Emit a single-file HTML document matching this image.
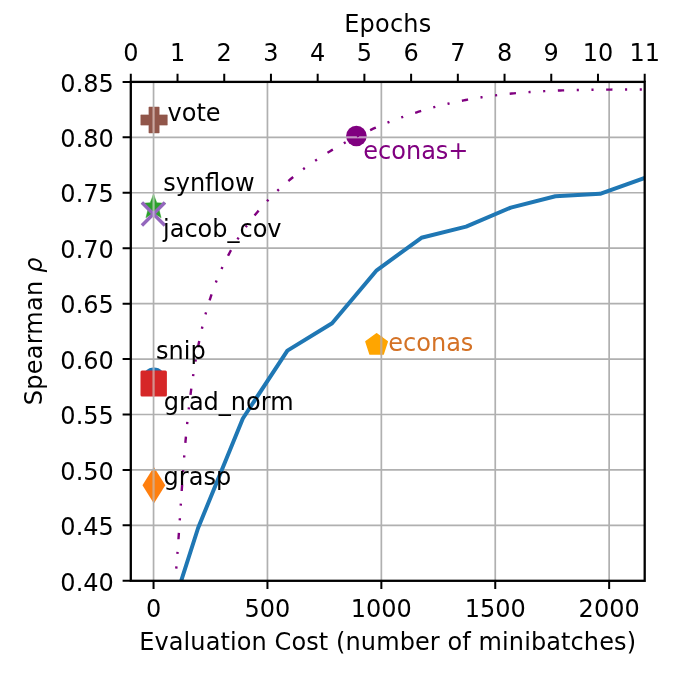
<!DOCTYPE html>
<html><head><meta charset="utf-8"><title>Spearman vs Evaluation Cost</title>
<style>html,body{margin:0;padding:0;background:#fff}body{width:684px;height:683px;overflow:hidden}</style></head>
<body>
<svg width="684" height="683" viewBox="0 0 684 683" style="display:block" font-family="'DejaVu Sans','Liberation Sans',sans-serif" font-size="24px">
<rect width="684" height="683" fill="#fff"/>
<defs><clipPath id="ax"><rect x="130.8" y="81.9" width="513.9000000000001" height="498.9"/></clipPath></defs>
<g clip-path="url(#ax)">
<circle cx="153.9" cy="379.4" r="11.8" fill="#1f77b4"/>
<rect x="140.5" y="370.4" width="26.4" height="26.2" rx="1.5" fill="#d62728"/>
<polygon points="148.95,107.10 159.15,107.10 159.15,114.90 167.25,114.90 167.25,125.10 159.15,125.10 159.15,132.90 148.95,132.90 148.95,125.10 140.85,125.10 140.85,114.90 148.95,114.90" fill="#91564a" stroke="#91564a" stroke-width="0.6" stroke-linejoin="round"/>
<polygon points="153.50,194.30 156.85,202.69 165.86,203.28 158.92,209.06 161.14,217.82 153.50,213.00 145.86,217.82 148.08,209.06 141.14,203.28 150.15,202.69" fill="#2ca02c" stroke="#2ca02c" stroke-width="0.4" stroke-linejoin="miter"/>
<path d="M141.9,202.5L164.9,225.5M164.9,202.5L141.9,225.5" stroke="#9467bd" stroke-width="3.4" stroke-linecap="butt" fill="none"/>
<polygon points="153.9,467.1 165.3,485.3 153.9,503.5 142.5,485.3" fill="#ff7f0e"/>
<circle cx="356.4" cy="136.0" r="10.3" fill="#800080"/>
<polygon points="376.60,333.80 387.25,341.54 383.18,354.06 370.02,354.06 365.95,341.54" fill="#ffa500" stroke="#ffa500" stroke-width="1.6" stroke-linejoin="round"/>
</g>
<path d="M153.55,81.9V580.8M267.45,81.9V580.8M381.35,81.9V580.8M495.25,81.9V580.8M609.15,81.9V580.8M130.8,525.37H644.7M130.8,469.93H644.7M130.8,414.50H644.7M130.8,359.07H644.7M130.8,303.63H644.7M130.8,248.20H644.7M130.8,192.77H644.7M130.8,137.33H644.7" stroke="#b0b0b0" stroke-width="1.7" fill="none"/>
<path d="M153.55,107.30L153.55,132.70" stroke="#cfa69d" stroke-width="1.7" fill="none"/>
<path d="M153.55,194.80L153.55,211.00" stroke="#9ccc9c" stroke-width="1.7" fill="none"/>
<path d="M153.55,211.00L153.55,217.00" stroke="#bca8d8" stroke-width="1.7" fill="none"/>
<path d="M153.55,367.90L153.55,370.60" stroke="#86b2dc" stroke-width="1.7" fill="none"/>
<path d="M153.55,370.60L153.55,396.40" stroke="#db8f8b" stroke-width="1.7" fill="none"/>
<path d="M153.55,470.00L153.55,500.80" stroke="#dfa878" stroke-width="1.7" fill="none"/>
<path d="M346.40,137.33L366.40,137.33" stroke="#c690c6" stroke-width="1.7" fill="none"/>
<path d="M381.35,336.00L381.35,355.30" stroke="#c8aa86" stroke-width="1.7" fill="none"/>
<g clip-path="url(#ax)" fill="none">
<polyline points="175.20,599.55 198.10,528.00 242.85,418.50 287.40,350.60 332.10,323.20 376.70,270.30 421.40,237.80 466.10,226.60 510.80,207.60 555.40,196.20 600.10,193.80 644.80,178.00" stroke="#1f77b4" stroke-width="4.0" stroke-linejoin="round"/>
<polyline points="175.03,582.99 175.21,580.96 175.39,578.94 175.56,576.91 175.73,574.89 175.90,572.86 176.07,570.84 176.24,568.82 176.40,566.79 176.56,564.77 176.72,562.74 176.88,560.72 177.04,558.70 177.19,556.67 177.34,554.65 177.49,552.63 177.64,550.60 177.79,548.58 177.94,546.56 178.08,544.54 178.23,542.51 178.37,540.49 178.51,538.47 178.65,536.45 178.79,534.42 178.93,532.40 179.07,530.38 179.20,528.36 179.34,526.34 179.48,524.32 179.61,522.30 179.75,520.28 179.88,518.26 180.01,516.23 180.15,514.21 180.28,512.19 180.42,510.17 180.55,508.15 180.68,506.13 180.82,504.11 180.95,502.10 181.09,500.08 181.22,498.06 181.36,496.04 181.49,494.02 181.63,492.00 181.77,489.98 181.91,487.96 182.05,485.95 182.19,483.93 182.33,481.91 182.47,479.89 182.61,477.88 182.76,475.86 182.90,473.84 183.05,471.83 183.20,469.81 183.35,467.79 183.50,465.78 183.65,463.76 183.81,461.75 183.97,459.73 184.13,457.71 184.29,455.70 184.45,453.68 184.61,451.67 184.78,449.66 184.95,447.64 185.12,445.63 185.30,443.61 185.47,441.60 185.65,439.59 185.84,437.57 186.02,435.56 186.21,433.55 186.40,431.53 186.59,429.52 186.79,427.51 186.99,425.50 187.19,423.49 187.40,421.48 187.61,419.46 187.82,417.45 188.04,415.44 188.26,413.43 188.48,411.42 188.71,409.41 188.94,407.40 189.17,405.39 189.41,403.38 189.65,401.37 189.90,399.36 190.15,397.36 190.41,395.35 190.67,393.34 190.93,391.33 191.20,389.32 191.47,387.32 191.75,385.31 192.03,383.30 192.32,381.30 192.61,379.29 192.91,377.28 193.21,375.28 193.51,373.27 193.83,371.27 194.14,369.26 194.47,367.26 194.79,365.25 195.13,363.25 195.46,361.24 195.81,359.24 196.16,357.24 196.52,355.23 196.88,353.23 197.25,351.23 197.62,349.23 198.00,347.23 198.39,345.23 198.79,343.24 199.19,341.24 199.60,339.25 200.02,337.26 200.45,335.27 200.88,333.28 201.33,331.30 201.78,329.31 202.24,327.33 202.71,325.36 203.19,323.38 203.68,321.41 204.18,319.44 204.68,317.48 205.20,315.51 205.73,313.56 206.27,311.60 206.82,309.65 207.38,307.70 207.95,305.76 208.53,303.82 209.12,301.89 209.73,299.96 210.34,298.03 210.97,296.11 211.61,294.19 212.27,292.28 212.93,290.38 213.61,288.48 214.30,286.58 215.01,284.69 215.73,282.81 216.46,280.93 217.20,279.06 217.96,277.19 218.74,275.33 219.52,273.48 220.33,271.63 221.14,269.79 221.98,267.96 222.82,266.14 223.69,264.32 224.56,262.50 225.46,260.70 226.36,258.90 227.29,257.11 228.22,255.33 229.18,253.56 230.14,251.79 231.12,250.03 232.12,248.28 233.13,246.54 234.15,244.81 235.19,243.08 236.24,241.36 237.31,239.65 238.39,237.95 239.48,236.26 240.59,234.58 241.71,232.90 242.85,231.24 243.99,229.58 245.16,227.93 246.33,226.29 247.52,224.66 248.72,223.04 249.93,221.43 251.16,219.83 252.40,218.24 253.65,216.66 254.92,215.09 256.20,213.53 257.49,211.97 258.79,210.43 260.11,208.90 261.43,207.38 262.77,205.87 264.12,204.37 265.49,202.88 266.86,201.40 268.25,199.94 269.65,198.48 271.06,197.03 272.48,195.60 273.92,194.17 275.36,192.76 276.82,191.36 278.28,189.97 279.76,188.59 281.25,187.23 282.75,185.87 284.26,184.53 285.78,183.20 287.31,181.88 288.86,180.56 290.41,179.27 291.97,177.98 293.54,176.70 295.11,175.43 296.70,174.18 298.30,172.93 299.91,171.70 301.52,170.47 303.14,169.26 304.77,168.05 306.41,166.86 308.06,165.68 309.71,164.50 311.37,163.34 313.04,162.19 314.71,161.04 316.40,159.91 318.08,158.79 319.78,157.67 321.48,156.57 323.19,155.47 324.90,154.39 326.62,153.31 328.35,152.25 330.08,151.19 331.82,150.14 333.56,149.11 335.31,148.08 337.07,147.06 338.83,146.05 340.60,145.05 342.37,144.06 344.14,143.08 345.93,142.11 347.71,141.15 349.51,140.20 351.30,139.26 353.11,138.33 354.91,137.41 356.72,136.50 358.54,135.59 360.36,134.70 362.19,133.81 364.02,132.94 365.85,132.07 367.69,131.22 369.53,130.37 371.38,129.54 373.22,128.71 375.08,127.89 376.94,127.08 378.80,126.28 380.66,125.49 382.53,124.71 384.40,123.94 386.28,123.18 388.15,122.43 390.04,121.69 391.92,120.95 393.81,120.23 395.70,119.52 397.60,118.81 399.50,118.11 401.40,117.43 403.30,116.75 405.21,116.08 407.12,115.43 409.04,114.78 410.96,114.14 412.88,113.51 414.80,112.89 416.73,112.27 418.65,111.67 420.59,111.08 422.52,110.50 424.46,109.92 426.40,109.36 428.34,108.80 430.28,108.25 432.23,107.72 434.18,107.19 436.14,106.67 438.09,106.16 440.05,105.66 442.01,105.17 443.97,104.69 445.93,104.22 447.90,103.75 449.87,103.30 451.84,102.85 453.81,102.42 455.79,101.99 457.76,101.57 459.74,101.17 461.72,100.77 463.70,100.38 465.69,100.00 467.68,99.63 469.66,99.26 471.65,98.91 473.64,98.57 475.64,98.23 477.63,97.90 479.63,97.58 481.63,97.27 483.63,96.97 485.63,96.68 487.63,96.39 489.63,96.11 491.64,95.84 493.64,95.58 495.65,95.32 497.66,95.07 499.67,94.83 501.68,94.60 503.69,94.37 505.71,94.16 507.72,93.94 509.74,93.74 511.75,93.54 513.77,93.35 515.79,93.16 517.81,92.98 519.83,92.81 521.85,92.64 523.87,92.48 525.89,92.32 527.92,92.17 529.94,92.03 531.97,91.89 533.99,91.75 536.02,91.63 538.04,91.50 540.07,91.38 542.10,91.27 544.12,91.16 546.15,91.06 548.18,90.96 550.21,90.87 552.24,90.78 554.27,90.69 556.30,90.61 558.33,90.53 560.36,90.46 562.38,90.39 564.41,90.33 566.44,90.26 568.47,90.20 570.50,90.15 572.53,90.10 574.56,90.05 576.59,90.00 578.62,89.96 580.65,89.92 582.68,89.88 584.71,89.85 586.74,89.81 588.76,89.79 590.79,89.76 592.82,89.73 594.84,89.71 596.87,89.69 598.89,89.67 600.92,89.65 602.94,89.63 604.97,89.62 606.99,89.60 609.01,89.59 611.03,89.58 613.05,89.57 615.07,89.56 617.09,89.55 619.11,89.55 621.13,89.54 623.14,89.53 625.16,89.53 627.17,89.52 629.18,89.51 631.19,89.51 633.20,89.50 635.21,89.49 637.22,89.49 639.23,89.48 641.23,89.47 643.23,89.47 645.24,89.46" stroke="#800080" stroke-width="2.4" stroke-dasharray="6.30 12.60 2.10 12.60 2.10 12.60" stroke-dashoffset="4.4"/>
</g>
<rect x="130.8" y="81.9" width="513.9000000000001" height="498.9" fill="none" stroke="#000" stroke-width="2.3"/>
<path d="M130.80,81.9v-8.2M177.52,81.9v-8.2M224.24,81.9v-8.2M270.95,81.9v-8.2M317.67,81.9v-8.2M364.39,81.9v-8.2M411.11,81.9v-8.2M457.83,81.9v-8.2M504.55,81.9v-8.2M551.26,81.9v-8.2M597.98,81.9v-8.2M644.70,81.9v-8.2M153.55,580.8v8.2M267.45,580.8v8.2M381.35,580.8v8.2M495.25,580.8v8.2M609.15,580.8v8.2M130.8,580.80h-8.2M130.8,525.37h-8.2M130.8,469.93h-8.2M130.8,414.50h-8.2M130.8,359.07h-8.2M130.8,303.63h-8.2M130.8,248.20h-8.2M130.8,192.77h-8.2M130.8,137.33h-8.2M130.8,81.90h-8.2" stroke="#000" stroke-width="2.0" fill="none"/>
<g fill="#000">
<text x="130.80" y="60.7" text-anchor="middle">0</text>
<text x="177.52" y="60.7" text-anchor="middle">1</text>
<text x="224.24" y="60.7" text-anchor="middle">2</text>
<text x="270.95" y="60.7" text-anchor="middle">3</text>
<text x="317.67" y="60.7" text-anchor="middle">4</text>
<text x="364.39" y="60.7" text-anchor="middle">5</text>
<text x="411.11" y="60.7" text-anchor="middle">6</text>
<text x="457.83" y="60.7" text-anchor="middle">7</text>
<text x="504.55" y="60.7" text-anchor="middle">8</text>
<text x="551.26" y="60.7" text-anchor="middle">9</text>
<text x="597.98" y="60.7" text-anchor="middle">10</text>
<text x="644.70" y="60.7" text-anchor="middle">11</text>
<text x="153.55" y="616.6" text-anchor="middle">0</text>
<text x="267.45" y="616.6" text-anchor="middle">500</text>
<text x="381.35" y="616.6" text-anchor="middle">1000</text>
<text x="495.25" y="616.6" text-anchor="middle">1500</text>
<text x="609.15" y="616.6" text-anchor="middle">2000</text>
<text x="113.8" y="590.50" text-anchor="end">0.40</text>
<text x="113.8" y="535.07" text-anchor="end">0.45</text>
<text x="113.8" y="479.63" text-anchor="end">0.50</text>
<text x="113.8" y="424.20" text-anchor="end">0.55</text>
<text x="113.8" y="368.77" text-anchor="end">0.60</text>
<text x="113.8" y="313.33" text-anchor="end">0.65</text>
<text x="113.8" y="257.90" text-anchor="end">0.70</text>
<text x="113.8" y="202.47" text-anchor="end">0.75</text>
<text x="113.8" y="147.03" text-anchor="end">0.80</text>
<text x="113.8" y="91.60" text-anchor="end">0.85</text>
<text x="387.75" y="32.2" text-anchor="middle" textLength="87.0" lengthAdjust="spacing">Epochs</text>
<text x="387.6" y="649.6" text-anchor="middle" textLength="496.8" lengthAdjust="spacing">Evaluation Cost (number of minibatches)</text>
<text transform="translate(42,331.35) rotate(-90)" text-anchor="middle" textLength="147.6" lengthAdjust="spacing">Spearman <tspan font-style="italic">ρ</tspan></text>
<text x="167.5" y="120.6">vote</text>
<text x="163.2" y="190.8">synflow</text>
<text x="163.0" y="237.3">jacob_cov</text>
<text x="156.0" y="358.5">snip</text>
<text x="163.8" y="410.0">grad_norm</text>
<text x="163.6" y="484.5">grasp</text>
</g>
<text x="363.3" y="158.7" fill="#800080">econas+</text>
<text x="388.3" y="350.7" fill="#d47226">econas</text>
</svg>
</body></html>
